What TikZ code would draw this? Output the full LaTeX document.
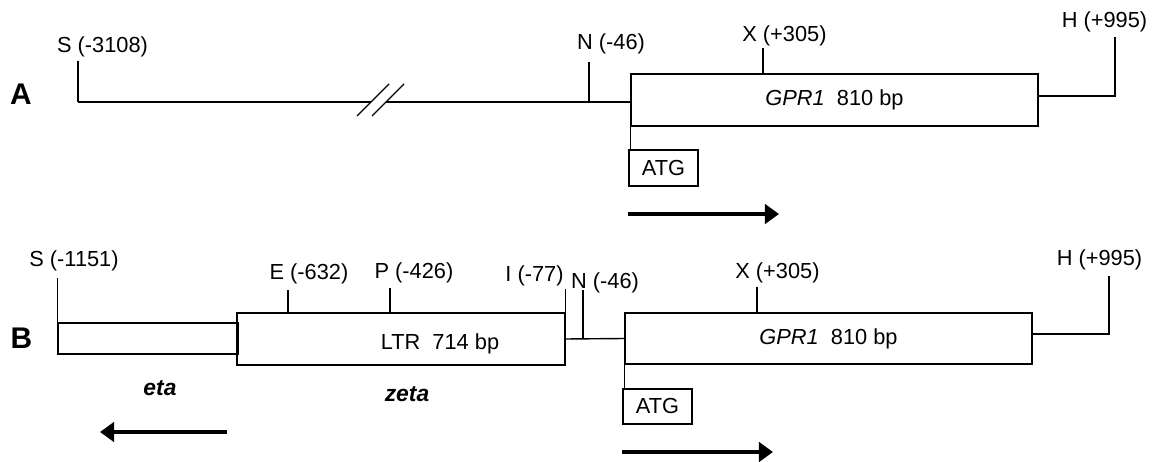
\documentclass[tikz,border=0pt]{standalone}
\usepackage{fontspec}
\setmainfont{Liberation Sans}
\usetikzlibrary{arrows.meta,positioning}

\tikzset{
  genebox/.style={draw, rectangle, inner sep=0pt, line width=0.8pt, font=\fontsize{12.4}{14}\selectfont},
  site/.style={inner sep=0pt, font=\fontsize{12.4}{14}\selectfont},
  panel/.style={inner sep=0pt, anchor=base, font=\fontsize{17}{20}\selectfont\bfseries},
  orf/.style={inner sep=0pt, anchor=base, font=\fontsize{13}{15}\selectfont\bfseries\itshape},
  dirarrow/.style={-{Triangle[length=8pt,width=11pt]}, line width=2.2pt}
}

\begin{document}
\begin{tikzpicture}[x=0.02cm, y=-0.02cm, line width=0.8pt]
    \useasboundingbox (0,0) rectangle (1153,462);

    % ---- A: genomic GPR1 ----
    \node[panel] (labA) at (21,105) {A};
    \node[genebox, minimum width=8.14cm, minimum height=1.04cm] (gprA) at (834.5,100) {\textit{GPR1}\ \ 810 bp};
    \node[genebox, minimum width=1.38cm, minimum height=0.72cm] (atgA) at (663.5,168) {ATG};

    % Backbone with break
    \coordinate (sA) at (78,102);
    \coordinate (brkL) at (371,102);
    \coordinate (brkR) at (386,102);
    \draw (sA) -- (brkL);
    \draw (brkR) -- (gprA.west |- sA);
    \draw ([shift={(-14,14)}]brkL) -- ++(32,-32);
    \draw ([shift={(-14,14)}]brkR) -- ++(32,-32);

    % Sites and ticks
    \coordinate (nA) at (589,102);
    \coordinate (xA) at (763,74);
    \coordinate (hA) at (1115,96);
    \draw (sA) -- ++(0,-41);
    \draw (nA) -- ++(0,-40);
    \draw (xA) -- ++(0,-26);
    \draw (gprA.east |- hA) -- (hA) -- ++(0,-59);
    \draw (gprA.south west) -- (gprA.south west |- atgA.north);
    \node[site] (sAlab) at (102.5,46.5) {S (-3108)};
    \node[site] (nAlab) at (611,44) {N (-46)};
    \node[site] (xAlab) at (784.5,36) {X (+305)};
    \node[site] (hAlab) at (1104.5,21.5) {H (+995)};

    % Transcription direction
    \coordinate (dirA1) at (628,214);
    \coordinate (dirA2) at (779,214);
    \draw[dirarrow] (dirA1) -- (dirA2);

    % ---- B: GPR1 with LTR ----
    \node[panel] (labB) at (21.5,349) {B};
    \node[genebox, minimum width=3.6cm, minimum height=0.62cm] (etaB) at (148,338.5) {};
    \node[genebox, minimum width=6.56cm, minimum height=1.04cm] (ltrB) at (401,339) {};
    \node[site] (ltrtxt) at (440,344) {LTR\ \ 714 bp};
    \node[genebox, minimum width=8.14cm, minimum height=1.02cm] (gprB) at (828.5,338.5) {\textit{GPR1}\ \ 810 bp};
    \node[genebox, minimum width=1.38cm, minimum height=0.70cm] (atgB) at (657.5,406.5) {ATG};

    % Sites and ticks
    \coordinate (eB) at (288,313);
    \coordinate (pB) at (390,313);
    \coordinate (nB) at (583,339);
    \coordinate (xB) at (757,313);
    \coordinate (hB) at (1109,334);
    \draw (etaB.north west) -- ++(0,-44);
    \draw (eB) -- ++(0,-23);
    \draw (pB) -- ++(0,-25);
    \draw (ltrB.north east) -- ++(0,-23);
    \draw (ltrB.east) -- (gprB.west);
    \draw (nB) -- ++(0,-49);
    \draw (xB) -- ++(0,-26);
    \draw (gprB.east |- hB) -- (hB) -- ++(0,-58);
    \draw (gprB.south west) -- (gprB.south west |- atgB.north);
    \node[site] (sBlab) at (74,261) {S (-1151)};
    \node[site] (eBlab) at (309,273.5) {E (-632)};
    \node[site] (pBlab) at (414,273) {P (-426)};
    \node[site] (iBlab) at (534.5,276) {I (-77)};
    \node[site] (nBlab) at (605,282.5) {N (-46)};
    \node[site] (xBlab) at (777.5,272.5) {X (+305)};
    \node[site] (hBlab) at (1099.5,260) {H (+995)};

    % Reading frames and directions
    \node[orf] (etalab) at (160,396) {eta};
    \node[orf] (zetalab) at (407,402) {zeta};
    \coordinate (dirB1) at (227,432);
    \coordinate (dirB2) at (100,432);
    \coordinate (dirB3) at (622,452);
    \coordinate (dirB4) at (773,452);
    \draw[dirarrow] (dirB1) -- (dirB2);
    \draw[dirarrow] (dirB3) -- (dirB4);
\end{tikzpicture}
\end{document}
